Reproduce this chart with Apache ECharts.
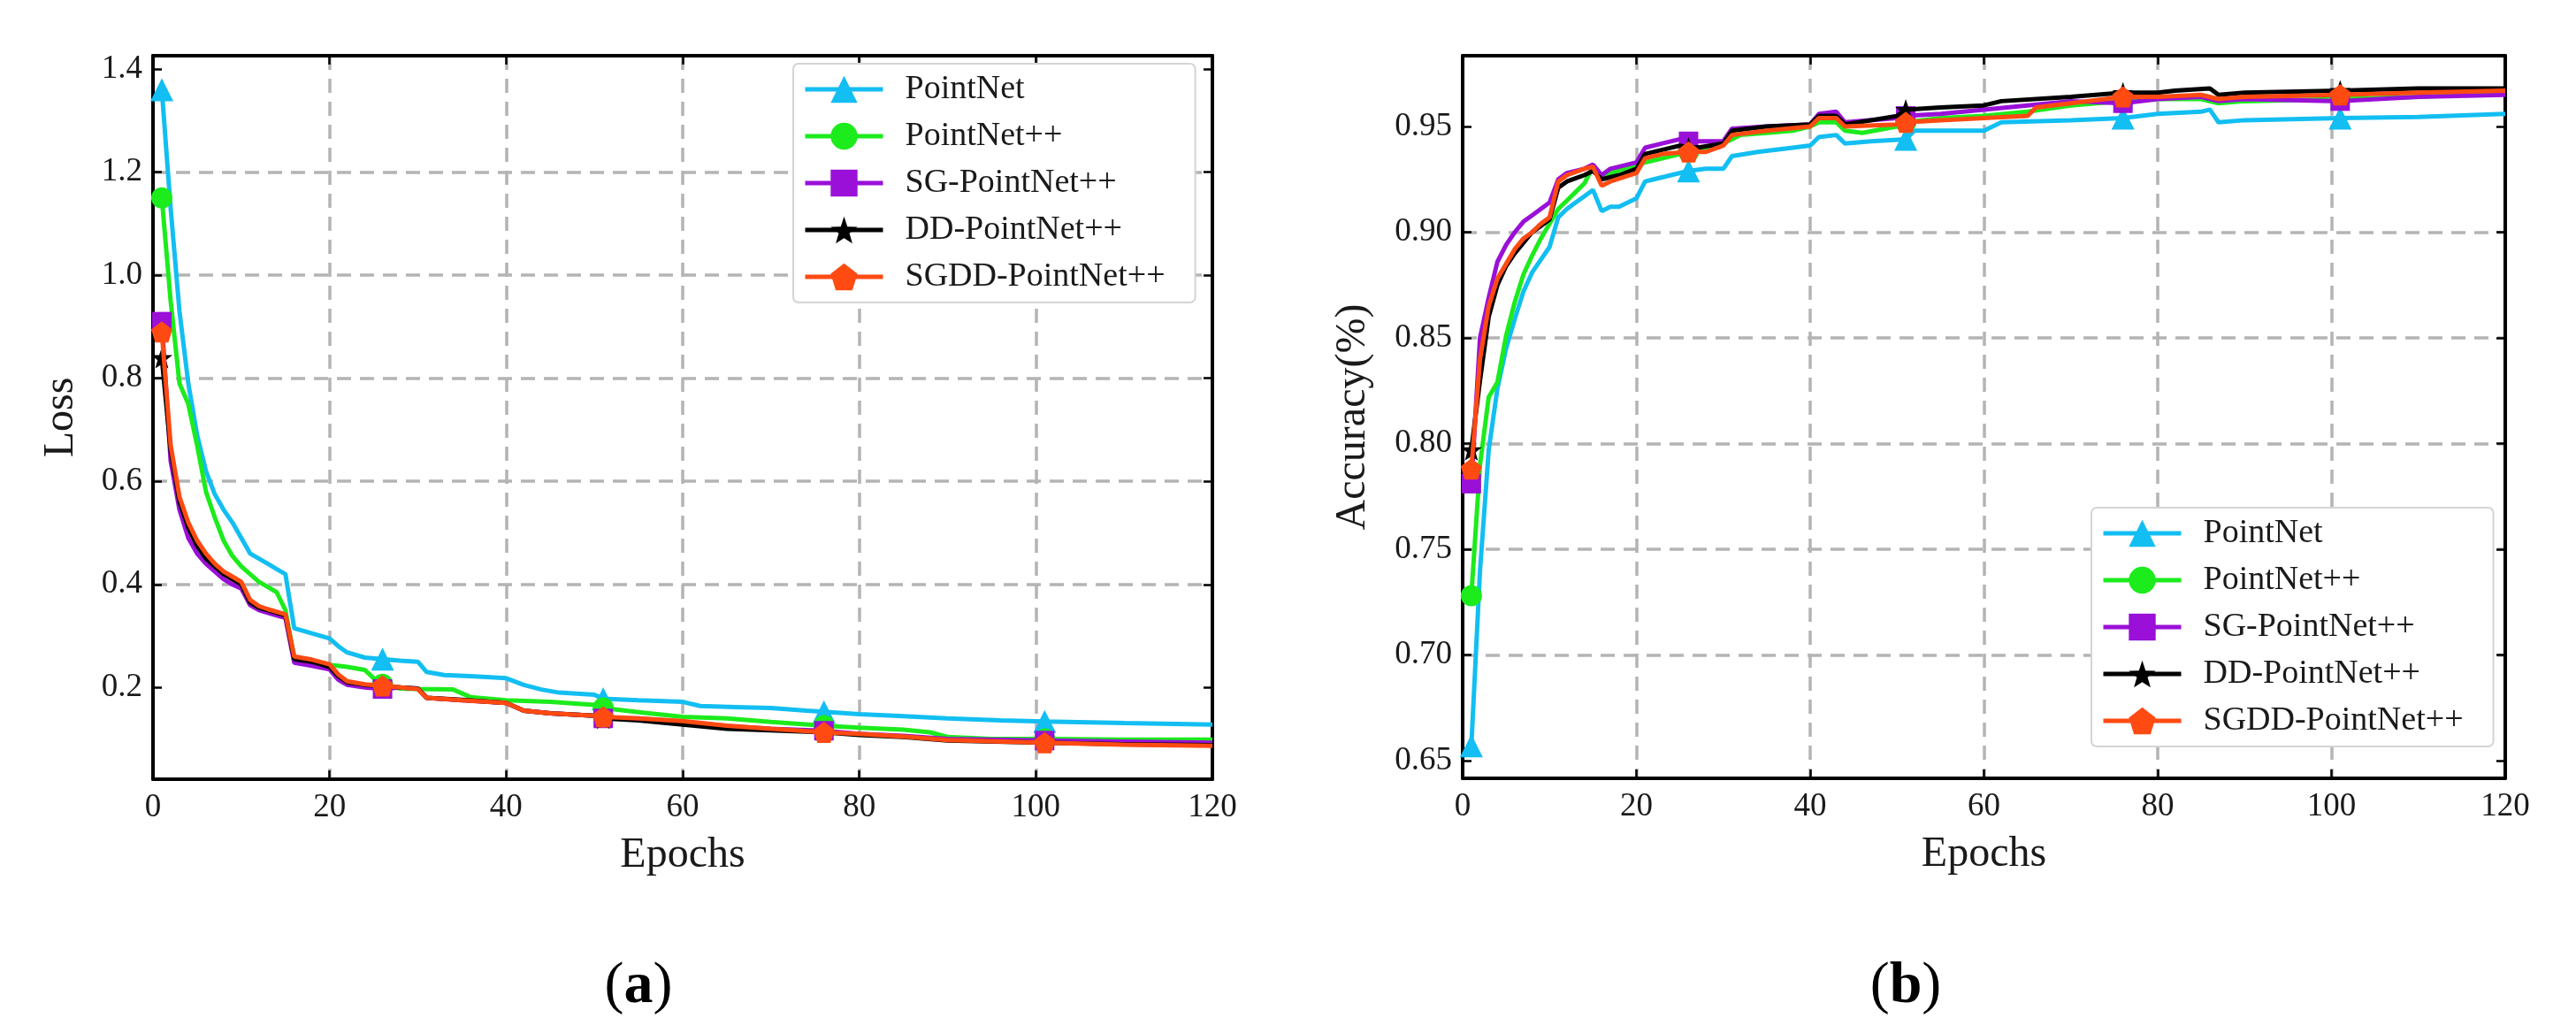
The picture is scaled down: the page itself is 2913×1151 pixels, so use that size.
<!DOCTYPE html>
<html>
<head>
<meta charset="utf-8">
<script src="https://cdn.jsdelivr.net/npm/echarts@6/dist/echarts.min.js"></script>
<style>
html,body{margin:0;padding:0;background:#fff;}
#c{width:2913px;height:1151px;}
</style>
</head>
<body>
<div id="c"></div>
<script>
// ---------- DATA ----------
const seriesNames = ['PointNet', 'PointNet++', 'SG-PointNet++', 'DD-PointNet++', 'SGDD-PointNet++'];
const markerEpochs = [1, 26, 51, 76, 101];
const xTicks = [0, 20, 40, 60, 80, 100, 120];
const lossTicks = [0.2, 0.4, 0.6, 0.8, 1.0, 1.2, 1.4];
const accTicks = [0.65, 0.70, 0.75, 0.80, 0.85, 0.90, 0.95];

const lossPointNet = [[1,1.36],[2,1.13],[3,0.93],[4,0.79],[5,0.69],[6,0.62],[7,0.575],[8,0.545],[9,0.52],[10,0.49],[11,0.46],[12,0.45],[13,0.44],[14,0.43],[15,0.42],[16,0.315],[18,0.305],[20,0.295],[21,0.28],[22,0.268],[24,0.258],[26,0.255],[28,0.252],[30,0.25],[31,0.23],[33,0.224],[36,0.222],[40,0.218],[42,0.205],[44,0.196],[46,0.19],[50,0.186],[51,0.178],[55,0.175],[60,0.172],[62,0.164],[66,0.162],[70,0.16],[74,0.155],[76,0.153],[80,0.148],[84,0.145],[90,0.14],[96,0.136],[101,0.134],[110,0.131],[120,0.128]];
const lossPointNetPP = [[1,1.15],[2,0.95],[3,0.79],[4,0.75],[5,0.67],[6,0.58],[7,0.53],[8,0.485],[9,0.455],[10,0.435],[11,0.42],[12,0.405],[13,0.395],[14,0.385],[15,0.35],[16,0.258],[18,0.252],[20,0.244],[22,0.24],[24,0.234],[25,0.218],[26,0.206],[28,0.198],[30,0.197],[34,0.196],[36,0.181],[40,0.175],[45,0.172],[50,0.166],[51,0.16],[55,0.152],[60,0.143],[65,0.14],[70,0.133],[76,0.126],[80,0.122],[85,0.118],[88,0.113],[90,0.104],[95,0.1],[101,0.1],[110,0.099],[120,0.099]];
const lossSG = [[1,0.91],[2,0.64],[3,0.545],[4,0.49],[5,0.46],[6,0.44],[7,0.425],[8,0.41],[9,0.4],[10,0.392],[11,0.36],[12,0.35],[13,0.345],[14,0.34],[15,0.335],[16,0.248],[18,0.242],[20,0.235],[21,0.215],[22,0.205],[24,0.2],[26,0.197],[28,0.2],[30,0.198],[31,0.18],[35,0.175],[40,0.17],[42,0.155],[45,0.15],[50,0.145],[51,0.14],[55,0.14],[60,0.133],[65,0.125],[70,0.12],[76,0.116],[80,0.11],[85,0.106],[90,0.1],[101,0.097],[110,0.095],[120,0.093]];
const lossDD = [[1,0.84],[2,0.66],[3,0.56],[4,0.51],[5,0.475],[6,0.45],[7,0.435],[8,0.42],[9,0.41],[10,0.4],[11,0.365],[12,0.355],[13,0.35],[14,0.345],[15,0.34],[16,0.255],[18,0.25],[20,0.24],[21,0.222],[22,0.21],[24,0.205],[26,0.203],[28,0.2],[30,0.198],[31,0.18],[35,0.176],[40,0.17],[42,0.155],[45,0.15],[50,0.145],[51,0.14],[55,0.136],[60,0.128],[65,0.12],[70,0.117],[76,0.113],[80,0.108],[85,0.104],[90,0.097],[101,0.093],[110,0.09],[120,0.088]];
const lossSGDD = [[1,0.89],[2,0.67],[3,0.57],[4,0.52],[5,0.485],[6,0.46],[7,0.44],[8,0.425],[9,0.415],[10,0.405],[11,0.37],[12,0.358],[13,0.352],[14,0.347],[15,0.342],[16,0.26],[18,0.254],[20,0.245],[21,0.225],[22,0.212],[24,0.206],[26,0.203],[28,0.2],[30,0.197],[31,0.18],[35,0.175],[40,0.17],[42,0.155],[45,0.15],[50,0.145],[51,0.143],[55,0.14],[60,0.135],[65,0.126],[70,0.12],[76,0.113],[80,0.11],[85,0.105],[90,0.098],[101,0.093],[110,0.089],[120,0.087]];

const accPointNet = [[1,0.657],[2,0.74],[3,0.797],[4,0.826],[5,0.845],[6,0.859],[7,0.872],[8,0.881],[9,0.887],[10,0.893],[11,0.907],[12,0.911],[13,0.914],[14,0.917],[15,0.92],[16,0.91],[17,0.912],[18,0.912],[19,0.914],[20,0.916],[21,0.924],[22,0.925],[24,0.927],[26,0.929],[28,0.93],[30,0.93],[31,0.936],[34,0.938],[38,0.94],[40,0.941],[41,0.945],[43,0.946],[44,0.942],[47,0.943],[51,0.944],[52,0.948],[55,0.948],[60,0.948],[62,0.952],[70,0.953],[76,0.954],[80,0.956],[85,0.957],[86,0.958],[87,0.952],[90,0.953],[101,0.954],[110,0.9545],[120,0.956]];
const accPointNetPP = [[1,0.728],[2,0.79],[3,0.822],[4,0.829],[5,0.851],[6,0.867],[7,0.88],[8,0.889],[9,0.897],[10,0.904],[11,0.911],[12,0.915],[13,0.919],[14,0.923],[15,0.931],[16,0.927],[17,0.928],[20,0.932],[22,0.934],[24,0.936],[26,0.938],[28,0.94],[30,0.942],[32,0.946],[35,0.947],[38,0.948],[40,0.95],[41,0.952],[43,0.952],[44,0.948],[46,0.947],[50,0.95],[51,0.952],[55,0.954],[60,0.955],[65,0.957],[70,0.96],[76,0.962],[80,0.963],[85,0.963],[87,0.961],[90,0.962],[101,0.963],[110,0.964],[120,0.966]];
const accSG = [[1,0.781],[2,0.85],[3,0.869],[4,0.886],[5,0.894],[6,0.9],[7,0.905],[8,0.908],[9,0.911],[10,0.914],[11,0.925],[12,0.928],[14,0.93],[15,0.932],[16,0.927],[17,0.93],[20,0.933],[21,0.94],[23,0.942],[25,0.944],[26,0.943],[27,0.943],[30,0.943],[31,0.949],[35,0.95],[40,0.951],[41,0.956],[43,0.957],[44,0.952],[50,0.954],[51,0.955],[55,0.956],[60,0.958],[65,0.96],[70,0.962],[76,0.961],[80,0.963],[85,0.964],[87,0.962],[90,0.963],[101,0.962],[110,0.964],[120,0.965]];
const accDD = [[1,0.797],[2,0.83],[3,0.86],[4,0.875],[5,0.884],[6,0.89],[7,0.895],[8,0.9],[9,0.903],[10,0.906],[11,0.921],[12,0.924],[14,0.927],[15,0.929],[16,0.925],[18,0.927],[20,0.93],[21,0.937],[23,0.939],[25,0.941],[26,0.94],[27,0.94],[30,0.942],[31,0.948],[35,0.95],[40,0.951],[41,0.955],[43,0.955],[44,0.951],[50,0.955],[51,0.958],[55,0.959],[60,0.96],[62,0.962],[70,0.964],[76,0.966],[80,0.966],[82,0.967],[86,0.968],[87,0.965],[90,0.966],[101,0.967],[110,0.968],[120,0.968]];
const accSGDD = [[1,0.788],[2,0.84],[3,0.865],[4,0.878],[5,0.885],[6,0.892],[7,0.897],[8,0.9],[9,0.904],[10,0.907],[11,0.924],[12,0.927],[14,0.93],[15,0.931],[16,0.922],[17,0.924],[20,0.928],[21,0.935],[23,0.937],[26,0.938],[28,0.938],[30,0.941],[31,0.946],[35,0.948],[40,0.95],[41,0.954],[43,0.954],[44,0.95],[50,0.951],[51,0.952],[55,0.953],[60,0.954],[65,0.955],[66,0.959],[70,0.961],[76,0.964],[80,0.964],[85,0.965],[87,0.963],[90,0.964],[101,0.965],[110,0.966],[120,0.967]];

// ---------- STYLE ----------
const FONT = '"Liberation Serif", "DejaVu Serif", serif';
const colors = ['#12BEF2', '#1CEB1C', '#9A10D8', '#000000', '#FF4A12'];
const STAR = 'path://M0,-10 L2.35,-3.24 L9.51,-3.09 L3.8,1.24 L5.88,8.09 L0,4.5 L-5.88,8.09 L-3.8,1.24 L-9.51,-3.09 L-2.35,-3.24 Z';
const PENT = 'path://M0,-10 L9.51,-3.09 L5.88,8.09 L-5.88,8.09 L-9.51,-3.09 Z';
const symbols = ['triangle', 'circle', 'rect', STAR, PENT];
const symbolSizes = [26, 24, 22, 24, 24];

const lossSets = [lossPointNet, lossPointNetPP, lossSG, lossDD, lossSGDD];
const accSets = [accPointNet, accPointNetPP, accSG, accDD, accSGDD];

function toItems(arr) {
  return arr.map(p => markerEpochs.indexOf(p[0]) >= 0 ? { value: p } : { value: p, symbol: 'none' });
}

function makeSeries(sets, gridIdx) {
  return sets.map((arr, i) => ({
    name: seriesNames[i],
    type: 'line',
    xAxisIndex: gridIdx * 2,
    yAxisIndex: gridIdx * 2,
    data: toItems(arr),
    symbol: symbols[i],
    symbolSize: symbolSizes[i],
    showSymbol: true,
    showAllSymbol: true,
    clip: true,
    animation: false,
    lineStyle: { color: colors[i], width: 5 },
    itemStyle: { color: colors[i] },
    z: 3 + i
  }));
}

const gridLine = { show: true, showMinLine: false, showMaxLine: false, lineStyle: { color: '#b4b4b4', width: 3.5, type: [16, 10] } };
const tickLabel = { fontFamily: FONT, fontSize: 37, color: '#1a1a1a' };
const frameLine = { show: true, onZero: false, lineStyle: { color: '#000', width: 4 } };
const tickStyle = { show: true, inside: true, length: 10, lineStyle: { color: '#000', width: 2.5 } };

function xAxisCfg(gridIdx) {
  return {
    type: 'value', gridIndex: gridIdx, min: 0, max: 120, interval: 20, position: 'bottom',
    name: 'Epochs', nameLocation: 'middle', nameGap: 62,
    nameTextStyle: { fontFamily: FONT, fontSize: 48, color: '#1a1a1a' },
    axisLine: frameLine,
    axisTick: tickStyle,
    axisLabel: Object.assign({ margin: 14, showMinLabel: true, showMaxLabel: true }, tickLabel),
    splitLine: gridLine
  };
}
function xAxisTop(gridIdx) {
  return {
    type: 'value', gridIndex: gridIdx, min: 0, max: 120, interval: 20, position: 'top',
    axisLine: frameLine, axisTick: tickStyle, axisLabel: { show: false }, splitLine: { show: false }
  };
}

function yAxisCfg(gridIdx, min, max, ticks, name, gap, digits) {
  return {
    type: 'value', gridIndex: gridIdx, min: min, max: max, position: 'left',
    name: name, nameLocation: 'middle', nameGap: gap, nameRotate: 90,
    nameTextStyle: { fontFamily: FONT, fontSize: 48, color: '#1a1a1a' },
    axisLine: frameLine,
    axisTick: Object.assign({ customValues: ticks }, tickStyle),
    axisLabel: Object.assign({ margin: 12, customValues: ticks, formatter: v => Number(v).toFixed(digits) }, tickLabel),
    splitLine: gridLine
  };
}
function yAxisRight(gridIdx, min, max, ticks) {
  return {
    type: 'value', gridIndex: gridIdx, min: min, max: max, position: 'right',
    axisLine: frameLine,
    axisTick: Object.assign({ customValues: ticks }, tickStyle),
    axisLabel: { show: false, customValues: ticks },
    splitLine: { show: false }
  };
}

function legendCfg(left, top) {
  return {
    orient: 'vertical', left: left, top: top,
    data: seriesNames,
    itemWidth: 88, itemHeight: 38, itemGap: 15,
    padding: [10, 34, 10, 11],
    backgroundColor: '#fff',
    borderColor: '#d4d4d4', borderWidth: 2, borderRadius: 6,
    lineStyle: { width: 5 },
    textStyle: { fontFamily: FONT, fontSize: 38, color: '#1a1a1a', padding: [0, 0, 0, 20] },
    selectedMode: false
  };
}

const chart = echarts.init(document.getElementById('c'), null, { renderer: 'canvas' });
chart.setOption({
  backgroundColor: '#fff',
  animation: false,
  grid: [
    { left: 173, top: 63, width: 1198, height: 818, show: false },
    { left: 1654, top: 63, width: 1179, height: 817, show: false }
  ],
  xAxis: [xAxisCfg(0), xAxisTop(0), xAxisCfg(1), xAxisTop(1)],
  yAxis: [
    yAxisCfg(0, 0.022, 1.426, lossTicks, 'Loss', 80, 1),
    yAxisRight(0, 0.022, 1.426, lossTicks),
    yAxisCfg(1, 0.6416, 0.9835, accTicks, 'Accuracy(%)', 100, 2),
    yAxisRight(1, 0.6416, 0.9835, accTicks)
  ],
  legend: [legendCfg(897, 72), legendCfg(2365, 574)],
  series: makeSeries(lossSets, 0).concat(makeSeries(accSets, 1)),
  graphic: [
    { type: 'text', x: 722, y: 1116, style: { text: '{p|(}{b|a}{p|)}', align: 'center', verticalAlign: 'middle',
      rich: { p: { fontFamily: FONT, fontSize: 66, fill: '#000' }, b: { fontFamily: FONT, fontSize: 66, fontWeight: 'bold', fill: '#000' } } } },
    { type: 'text', x: 2155, y: 1116, style: { text: '{p|(}{b|b}{p|)}', align: 'center', verticalAlign: 'middle',
      rich: { p: { fontFamily: FONT, fontSize: 66, fill: '#000' }, b: { fontFamily: FONT, fontSize: 66, fontWeight: 'bold', fill: '#000' } } } }
  ]
});
</script>
</body>
</html>
